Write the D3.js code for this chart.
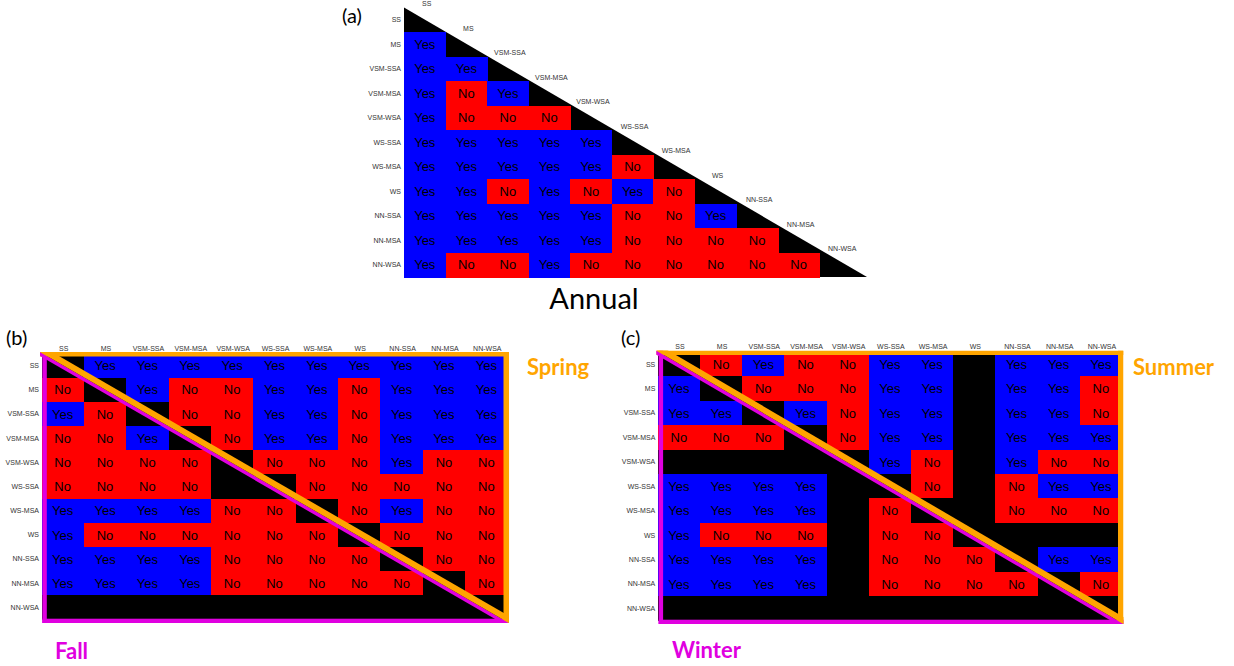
<!DOCTYPE html>
<html>
<head>
<meta charset="utf-8">
<script src="https://cdn.jsdelivr.net/npm/d3@7"></script>
<style>
  body { margin: 0; background: #fff; }
  svg { display: block; }
</style>
</head>
<body>
<svg id="chart" width="1234" height="666"></svg>
<script>
const svg = d3.select("#chart");

const labels = ["SS", "MS", "VSM-SSA", "VSM-MSA", "VSM-WSA", "WS-SSA", "WS-MSA", "WS", "NN-SSA", "NN-MSA", "NN-WSA"];

// annual: lower triangle, row i holds columns 0..i-1
const annual = [
  [],
  ["Yes"],
  ["Yes", "Yes"],
  ["Yes", "No", "Yes"],
  ["Yes", "No", "No", "No"],
  ["Yes", "Yes", "Yes", "Yes", "Yes"],
  ["Yes", "Yes", "Yes", "Yes", "Yes", "No"],
  ["Yes", "Yes", "No", "Yes", "No", "Yes", "No"],
  ["Yes", "Yes", "Yes", "Yes", "Yes", "No", "No", "Yes"],
  ["Yes", "Yes", "Yes", "Yes", "Yes", "No", "No", "No", "No"],
  ["Yes", "No", "No", "Yes", "No", "No", "No", "No", "No", "No"]
];

// fall / winter: lower triangle (columns 0..i-1), null = no value
const fall = [
  [],
  ["No"],
  ["Yes", "No"],
  ["No", "No", "Yes"],
  ["No", "No", "No", "No"],
  ["No", "No", "No", "No", null],
  ["Yes", "Yes", "Yes", "Yes", "No", "No"],
  ["Yes", "No", "No", "No", "No", "No", "No"],
  ["Yes", "Yes", "Yes", "Yes", "No", "No", "No", "No"],
  ["Yes", "Yes", "Yes", "Yes", "No", "No", "No", "No", "No"],
  [null, null, null, null, null, null, null, null, null, null]
];

const winter = [
  [],
  ["Yes"],
  ["Yes", "Yes"],
  ["No", "No", "No"],
  [null, null, null, null],
  ["Yes", "Yes", "Yes", "Yes", null],
  ["Yes", "Yes", "Yes", "Yes", null, "No"],
  ["Yes", "No", "No", "No", null, "No", "No"],
  ["Yes", "Yes", "Yes", "Yes", null, "No", "No", "No"],
  ["Yes", "Yes", "Yes", "Yes", null, "No", "No", "No", "No"],
  [null, null, null, null, null, null, null, null, null, null]
];

// spring / summer: upper triangle, row i holds columns i+1..10
const spring = [
  ["Yes", "Yes", "Yes", "Yes", "Yes", "Yes", "Yes", "Yes", "Yes", "Yes"],
  ["Yes", "No", "No", "Yes", "Yes", "No", "Yes", "Yes", "Yes"],
  ["No", "No", "Yes", "Yes", "No", "Yes", "Yes", "Yes"],
  ["No", "Yes", "Yes", "No", "Yes", "Yes", "Yes"],
  ["No", "No", "No", "Yes", "No", "No"],
  ["No", "No", "No", "No", "No"],
  ["No", "Yes", "No", "No"],
  ["No", "No", "No"],
  ["No", "No"],
  ["No"],
  []
];

const summer = [
  ["No", "Yes", "No", "No", "Yes", "Yes", null, "Yes", "Yes", "Yes"],
  ["No", "No", "No", "Yes", "Yes", null, "Yes", "Yes", "No"],
  ["Yes", "No", "Yes", "Yes", null, "Yes", "Yes", "No"],
  ["No", "Yes", "Yes", null, "Yes", "Yes", "Yes"],
  ["Yes", "No", null, "Yes", "No", "No"],
  ["No", null, "No", "Yes", "Yes"],
  [null, "No", "No", "No"],
  [null, null, null],
  ["Yes", "Yes"],
  ["No"],
  []
];

const colorOf = v => v === "Yes" ? "#0000ff" : v === "No" ? "#ff0000" : "#000000";
const smallFont = "'Liberation Sans', Arial, sans-serif";
const bigFont = "Lato, 'Open Sans', sans-serif";

function drawCells(g, x, y, cells) {
  g.selectAll("rect.cell")
    .data(cells)
    .enter().append("rect")
    .attr("class", "cell")
    .attr("x", d => x(labels[d.col]))
    .attr("y", d => y(labels[d.row]))
    .attr("width", x.bandwidth() + 0.6)
    .attr("height", y.bandwidth() + 0.6)
    .attr("shape-rendering", "crispEdges")
    .attr("fill", d => colorOf(d.v));

  g.selectAll("text.val")
    .data(cells.filter(d => d.v))
    .enter().append("text")
    .attr("class", "val")
    .attr("x", d => x(labels[d.col]) + x.bandwidth() / 2)
    .attr("y", d => y(labels[d.row]) + y.bandwidth() / 2)
    .attr("dy", "0.36em")
    .attr("text-anchor", "middle")
    .attr("font-family", smallFont)
    .attr("font-size", 13)
    .attr("fill", "#000")
    .text(d => d.v);
}

function rowLabels(g, x, y, dx) {
  g.selectAll("text.rowlab")
    .data(labels)
    .enter().append("text")
    .attr("class", "rowlab")
    .attr("x", x.range()[0] - dx)
    .attr("y", d => y(d) + y.bandwidth() / 2)
    .attr("dy", "0.35em")
    .attr("text-anchor", "end")
    .attr("font-family", smallFont)
    .attr("font-size", 7)
    .attr("fill", "#333")
    .text(d => d);
}

// ---------- (a) Annual ----------
const xa = d3.scaleBand().domain(labels).range([404, 861]);
const ya = d3.scaleBand().domain(labels).range([7.5, 277]);
const ga = svg.append("g");
const tipA = xa.range()[1] + 6;

ga.append("path")
  .attr("d", d3.line()([[xa.range()[0], ya.range()[0]], [tipA, ya.range()[1]], [xa.range()[0], ya.range()[1]]]) + "Z")
  .attr("fill", "#000");

const annualCells = [];
annual.forEach((row, i) => row.forEach((v, j) => annualCells.push({row: i, col: j, v: v})));
drawCells(ga, xa, ya, annualCells);
rowLabels(ga, xa, ya, 3);

ga.selectAll("text.collab")
  .data(labels)
  .enter().append("text")
  .attr("class", "collab")
  .attr("x", d => xa(d) + xa.bandwidth() / 2 + 2)
  .attr("y", d => ya(d) - 1.5)
  .attr("text-anchor", "middle")
  .attr("font-family", smallFont)
  .attr("font-size", 7)
  .attr("fill", "#333")
  .text(d => d);

svg.append("text").attr("x", 342).attr("y", 23)
  .attr("font-family", bigFont).attr("font-size", 20).attr("fill", "#000").text("(a)");
svg.append("text").attr("x", 594).attr("y", 309).attr("text-anchor", "middle")
  .attr("font-family", bigFont).attr("font-size", 29).attr("fill", "#000").text("Annual");

// ---------- (b), (c) seasonal panels ----------
function seasonPanel(p) {
  const x = d3.scaleBand().domain(labels).range(p.xr);
  const y = d3.scaleBand().domain(labels).range(p.yr);
  const g = svg.append("g");
  const [x0, x1] = p.xr, [y0, y1] = p.yr;

  const cells = [];
  labels.forEach((r, i) => labels.forEach((c, j) => {
    let v = null;
    if (j < i) v = p.lower[i][j];
    else if (j > i) v = p.upper[i][j - i - 1];
    cells.push({row: i, col: j, v: v});
  }));
  drawCells(g, x, y, cells);
  rowLabels(g, x, y, 2.5);

  g.selectAll("text.collab")
    .data(labels)
    .enter().append("text")
    .attr("class", "collab")
    .attr("x", d => x(d) + x.bandwidth() / 2 + 1)
    .attr("y", y0 - 3)
    .attr("text-anchor", "middle")
    .attr("font-family", smallFont)
    .attr("font-size", 7)
    .attr("fill", "#333")
    .text(d => d);

  // frame: orange for the upper season, magenta for the lower one
  const L = x0 - 1.5, R = x1 + 1.5, T = y0 - 1.5, B = y1 + 3.5;
  const clipId = "clip" + p.id;
  g.append("clipPath").attr("id", clipId)
    .append("rect").attr("x", L).attr("y", T).attr("width", R - L).attr("height", B - T);
  const frame = g.append("g").attr("clip-path", `url(#${clipId})`);

  frame.append("rect").attr("x", x0 + 0.8).attr("y", T).attr("width", 4.5).attr("height", B - T).attr("fill", "#e000e0");
  frame.append("rect").attr("x", x0 + 0.8).attr("y", B - 4.3).attr("width", R - x0).attr("height", 4.3).attr("fill", "#e000e0");
  frame.append("rect").attr("x", L).attr("y", T).attr("width", R - L).attr("height", 4.5).attr("fill", "#ffa500");
  frame.append("rect").attr("x", R - 5.5).attr("y", T).attr("width", 5.5).attr("height", B - T).attr("fill", "#ffa500");

  const dx = R - L, dy = B - T, len = Math.hypot(dx, dy);
  const nx = dy / len, ny = -dx / len; // normal pointing up-right
  const diag = (off, w, col) => frame.append("line")
    .attr("x1", L + nx * off).attr("y1", T + ny * off)
    .attr("x2", R + nx * off).attr("y2", B + ny * off)
    .attr("stroke", col).attr("stroke-width", w);
  diag(-1.75, 3.5, "#e000e0");
  diag(3, 6, "#ffa500");

  svg.append("text").attr("x", p.tag[0]).attr("y", p.tag[1])
    .attr("font-family", bigFont).attr("font-size", 20).attr("fill", "#000").text(p.tagText);
  svg.append("text").attr("x", p.upName[0]).attr("y", p.upName[1])
    .attr("font-family", bigFont).attr("font-weight", "bold").attr("font-size", 22)
    .attr("fill", "#ffa500").text(p.upText);
  svg.append("text").attr("x", p.lowName[0]).attr("y", p.lowName[1])
    .attr("font-family", bigFont).attr("font-weight", "bold").attr("font-size", 22)
    .attr("fill", "#e000e0").text(p.lowText);
}

seasonPanel({
  id: "b", xr: [41.5, 507.5], yr: [353.5, 619.5],
  lower: fall, upper: spring,
  tag: [6, 345], tagText: "(b)",
  upName: [527, 375], upText: "Spring",
  lowName: [55, 659], lowText: "Fall"
});

seasonPanel({
  id: "c", xr: [657.8, 1122], yr: [352, 620.5],
  lower: winter, upper: summer,
  tag: [621, 345], tagText: "(c)",
  upName: [1133, 375], upText: "Summer",
  lowName: [672, 658], lowText: "Winter"
});
</script>
</body>
</html>
